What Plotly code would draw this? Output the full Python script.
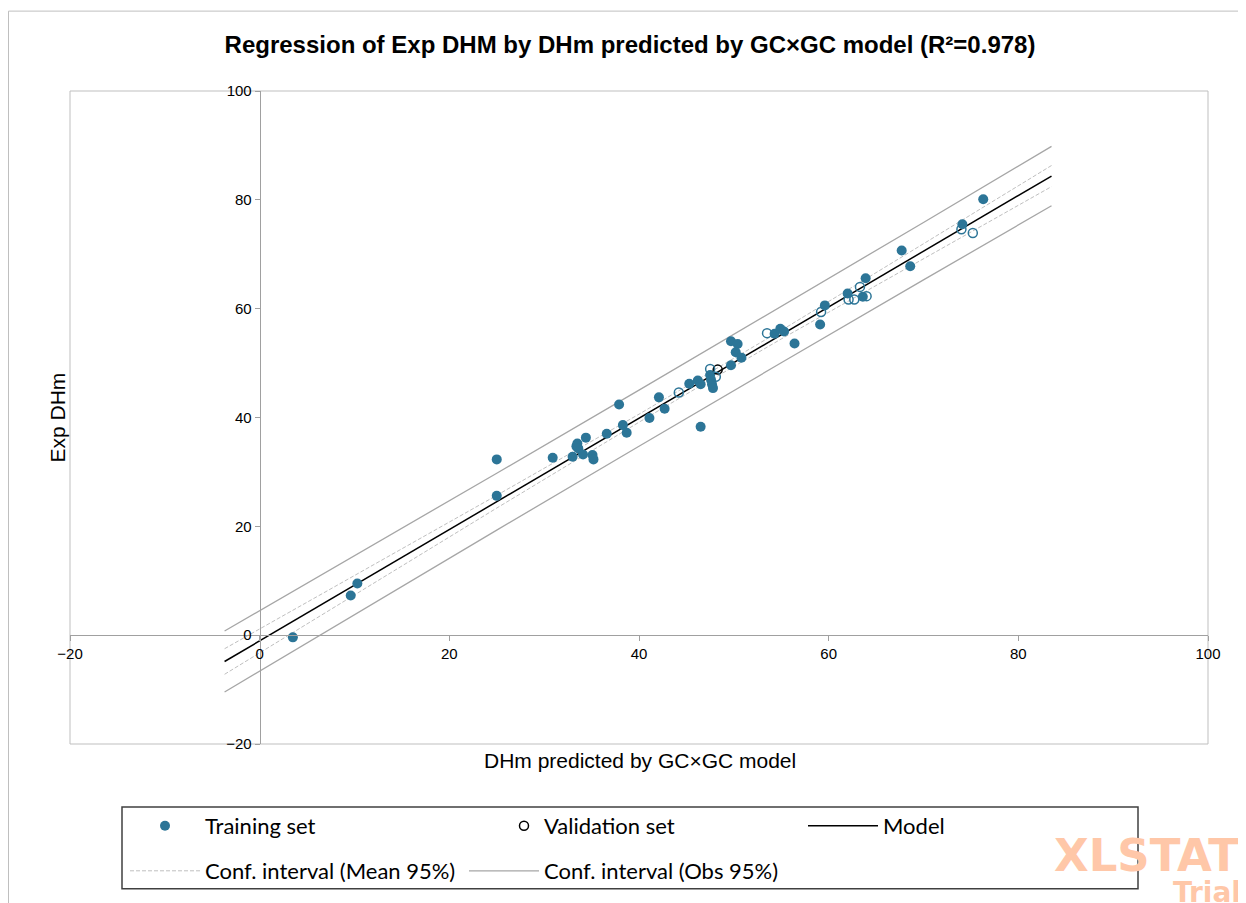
import plotly.graph_objects as go

# ---- data ----
train_x = [3.5, 9.6, 10.3, 25.0, 25.0, 30.9, 33.0, 33.4, 33.5, 33.6, 34.1, 34.4, 35.1, 35.2,
           36.6, 37.9, 38.3, 38.7, 41.1, 42.1, 42.7, 45.3, 46.2, 46.5, 46.5, 47.5, 47.6, 47.7,
           47.8, 49.7, 50.4, 50.2, 50.8, 49.7, 54.3, 54.9, 55.3, 56.4, 59.1, 59.6, 62.0, 63.6,
           63.9, 67.7, 68.6, 74.1, 76.3]
train_y = [-0.4, 7.3, 9.5, 32.3, 25.6, 32.6, 32.8, 34.7, 35.2, 34.3, 33.2, 36.3, 33.1, 32.3,
           37.0, 42.4, 38.6, 37.2, 39.9, 43.7, 41.6, 46.2, 46.8, 46.1, 38.3, 47.8, 46.9, 46.1,
           45.4, 54.0, 53.5, 52.0, 51.0, 49.6, 55.4, 56.3, 55.8, 53.6, 57.1, 60.6, 62.8, 62.2,
           65.6, 70.7, 67.8, 75.5, 80.1]

valid_x = [48.3, 44.2, 47.5, 48.1, 53.5, 59.2, 62.1, 62.7, 64.0, 63.3, 74.0, 75.2]
valid_y = [48.8, 44.6, 48.9, 47.5, 55.5, 59.4, 61.7, 61.7, 62.3, 64.0, 74.6, 73.9]
valid_edge = ["#000000"] + ["#2C7597"] * 11

line_x = [-3.7, 10, 25, 40, 45, 55, 70, 83.5]
model_y = [-4.84, 9.18, 24.53, 39.87, 45.0, 55.22, 70.56, 84.37]
mean_up = [-2.49, 10.97, 25.70, 40.61, 45.70, 56.01, 71.93, 86.31]
mean_lo = [-7.19, 7.39, 23.36, 39.13, 44.30, 54.43, 69.19, 82.43]
obs_up = [0.77, 14.58, 29.76, 45.02, 50.15, 60.38, 75.84, 89.83]
obs_lo = [-10.45, 3.78, 19.30, 34.72, 39.85, 50.06, 65.28, 78.91]

x_ticks = [-20, 0, 20, 40, 60, 80, 100]
y_ticks = [-20, 0, 20, 40, 60, 80, 100]

TEAL = "#2C7597"

# the page adds an 8px body margin; layout values below are page pixels minus this
OFF = 8
W, H = 1246 - OFF, 903 - OFF
L, R, T, B = 70 - OFF, 1208 - OFF, 91 - OFF, 745 - OFF


def fx(page_px):
    return (page_px - OFF - L) / (R - L)


def fy(page_px):
    return (B - (page_px - OFF)) / (B - T)


fig = go.Figure()

fig.add_trace(go.Scatter(
    x=line_x + [None] + line_x, y=mean_up + [None] + mean_lo, mode="lines",
    name="Conf. interval (Mean 95%)", legend="legend3", legendrank=1,
    line=dict(color="#BFBFBF", width=1, dash="4px,2px")))
fig.add_trace(go.Scatter(
    x=line_x + [None] + line_x, y=obs_up + [None] + obs_lo, mode="lines",
    name="Conf. interval (Obs 95%)", legend="legend3", legendrank=2,
    line=dict(color="#A6A6A6", width=1.3)))
fig.add_trace(go.Scatter(
    x=line_x, y=model_y, mode="lines", name="Model", legend="legend4",
    line=dict(color="#000000", width=1.5)))
fig.add_trace(go.Scatter(
    x=train_x, y=train_y, mode="markers", name="Training set", legend="legend",
    marker=dict(color=TEAL, size=10, line=dict(width=0))))
fig.add_trace(go.Scatter(
    x=valid_x, y=valid_y, mode="markers", name="Validation set", legend="legend2",
    marker=dict(color="rgba(255,255,255,0)", size=9,
                line=dict(color=valid_edge, width=1.5))))

axis_common = dict(
    range=[-20, 100], showgrid=False, zeroline=False, showline=True,
    linecolor="#A0A0A0", linewidth=1, ticks="outside", ticklen=5,
    tickcolor="#A0A0A0", tickfont=dict(family="Liberation Sans", size=15, color="#000000"),
    anchor="free", position=20 / 120)

legend_common = dict(orientation="h", xanchor="left", yanchor="top",
                     entrywidthmode="pixels",
                     borderwidth=0, bgcolor="rgba(255,255,255,0)",
                     font=dict(family="Lato", size=22, color="#000000"))

fig.update_layout(
    width=W, height=H,
    margin=dict(l=L, r=W - R, t=T, b=H - B),
    paper_bgcolor="white", plot_bgcolor="white",
    showlegend=True,
    hovermode=False,
    title=dict(text="<b>Regression of Exp DHM by DHm predicted by GC×GC model (R²=0.978)</b>",
               x=(630 - OFF) / W, xanchor="center", y=1 - (45 - OFF) / H, yanchor="middle",
               font=dict(family="Liberation Sans", size=24, color="#000000")),
    xaxis=dict(tickvals=x_ticks, **axis_common),
    yaxis=dict(tickvals=y_ticks, **axis_common),
    legend=dict(x=fx(125), y=fy(805), entrywidth=200, itemwidth=70, **legend_common),
    legend2=dict(x=fx(504), y=fy(805), entrywidth=200, itemwidth=30, **legend_common),
    legend4=dict(x=fx(803), y=fy(805), entrywidth=100, itemwidth=70, **legend_common),
    legend3=dict(x=fx(125), y=fy(850), entrywidth=254, itemwidth=70, **legend_common),
    shapes=[
        dict(type="rect", xref="paper", yref="paper", x0=0, x1=1, y0=0, y1=1,
             line=dict(color="#BFBFBF", width=1), layer="below"),
        dict(type="rect", xref="paper", yref="paper", x0=fx(8.5), x1=fx(1260),
             y0=fy(920), y1=fy(11), line=dict(color="#BFBFBF", width=1), layer="below"),
        dict(type="rect", xref="paper", yref="paper", x0=fx(122), x1=fx(1138),
             y0=fy(890), y1=fy(808), line=dict(color="#404040", width=1.5), layer="above"),
    ],
    annotations=[
        dict(text="Exp DHm", xref="paper", yref="paper", x=fx(57), y=fy(418),
             textangle=-90, showarrow=False, xanchor="center", yanchor="middle",
             font=dict(family="Liberation Sans", size=21, color="#000000")),
        dict(text="DHm predicted by GC×GC model", xref="paper", yref="paper",
             x=fx(640), y=fy(762), showarrow=False, xanchor="center", yanchor="middle",
             font=dict(family="Liberation Sans", size=21, color="#000000")),
        dict(text="<b>XLSTAT</b>", xref="paper", yref="paper", x=fx(1241), y=fy(857),
             showarrow=False, xanchor="right", yanchor="middle",
             font=dict(family="DejaVu Sans", size=45, color="#FFC7A8")),
        dict(text="<b>Trial</b>", xref="paper", yref="paper", x=fx(1243), y=fy(894),
             showarrow=False, xanchor="right", yanchor="middle",
             font=dict(family="DejaVu Sans", size=28, color="#FFC7A8")),
    ],
)

fig.write_html("out.html")
